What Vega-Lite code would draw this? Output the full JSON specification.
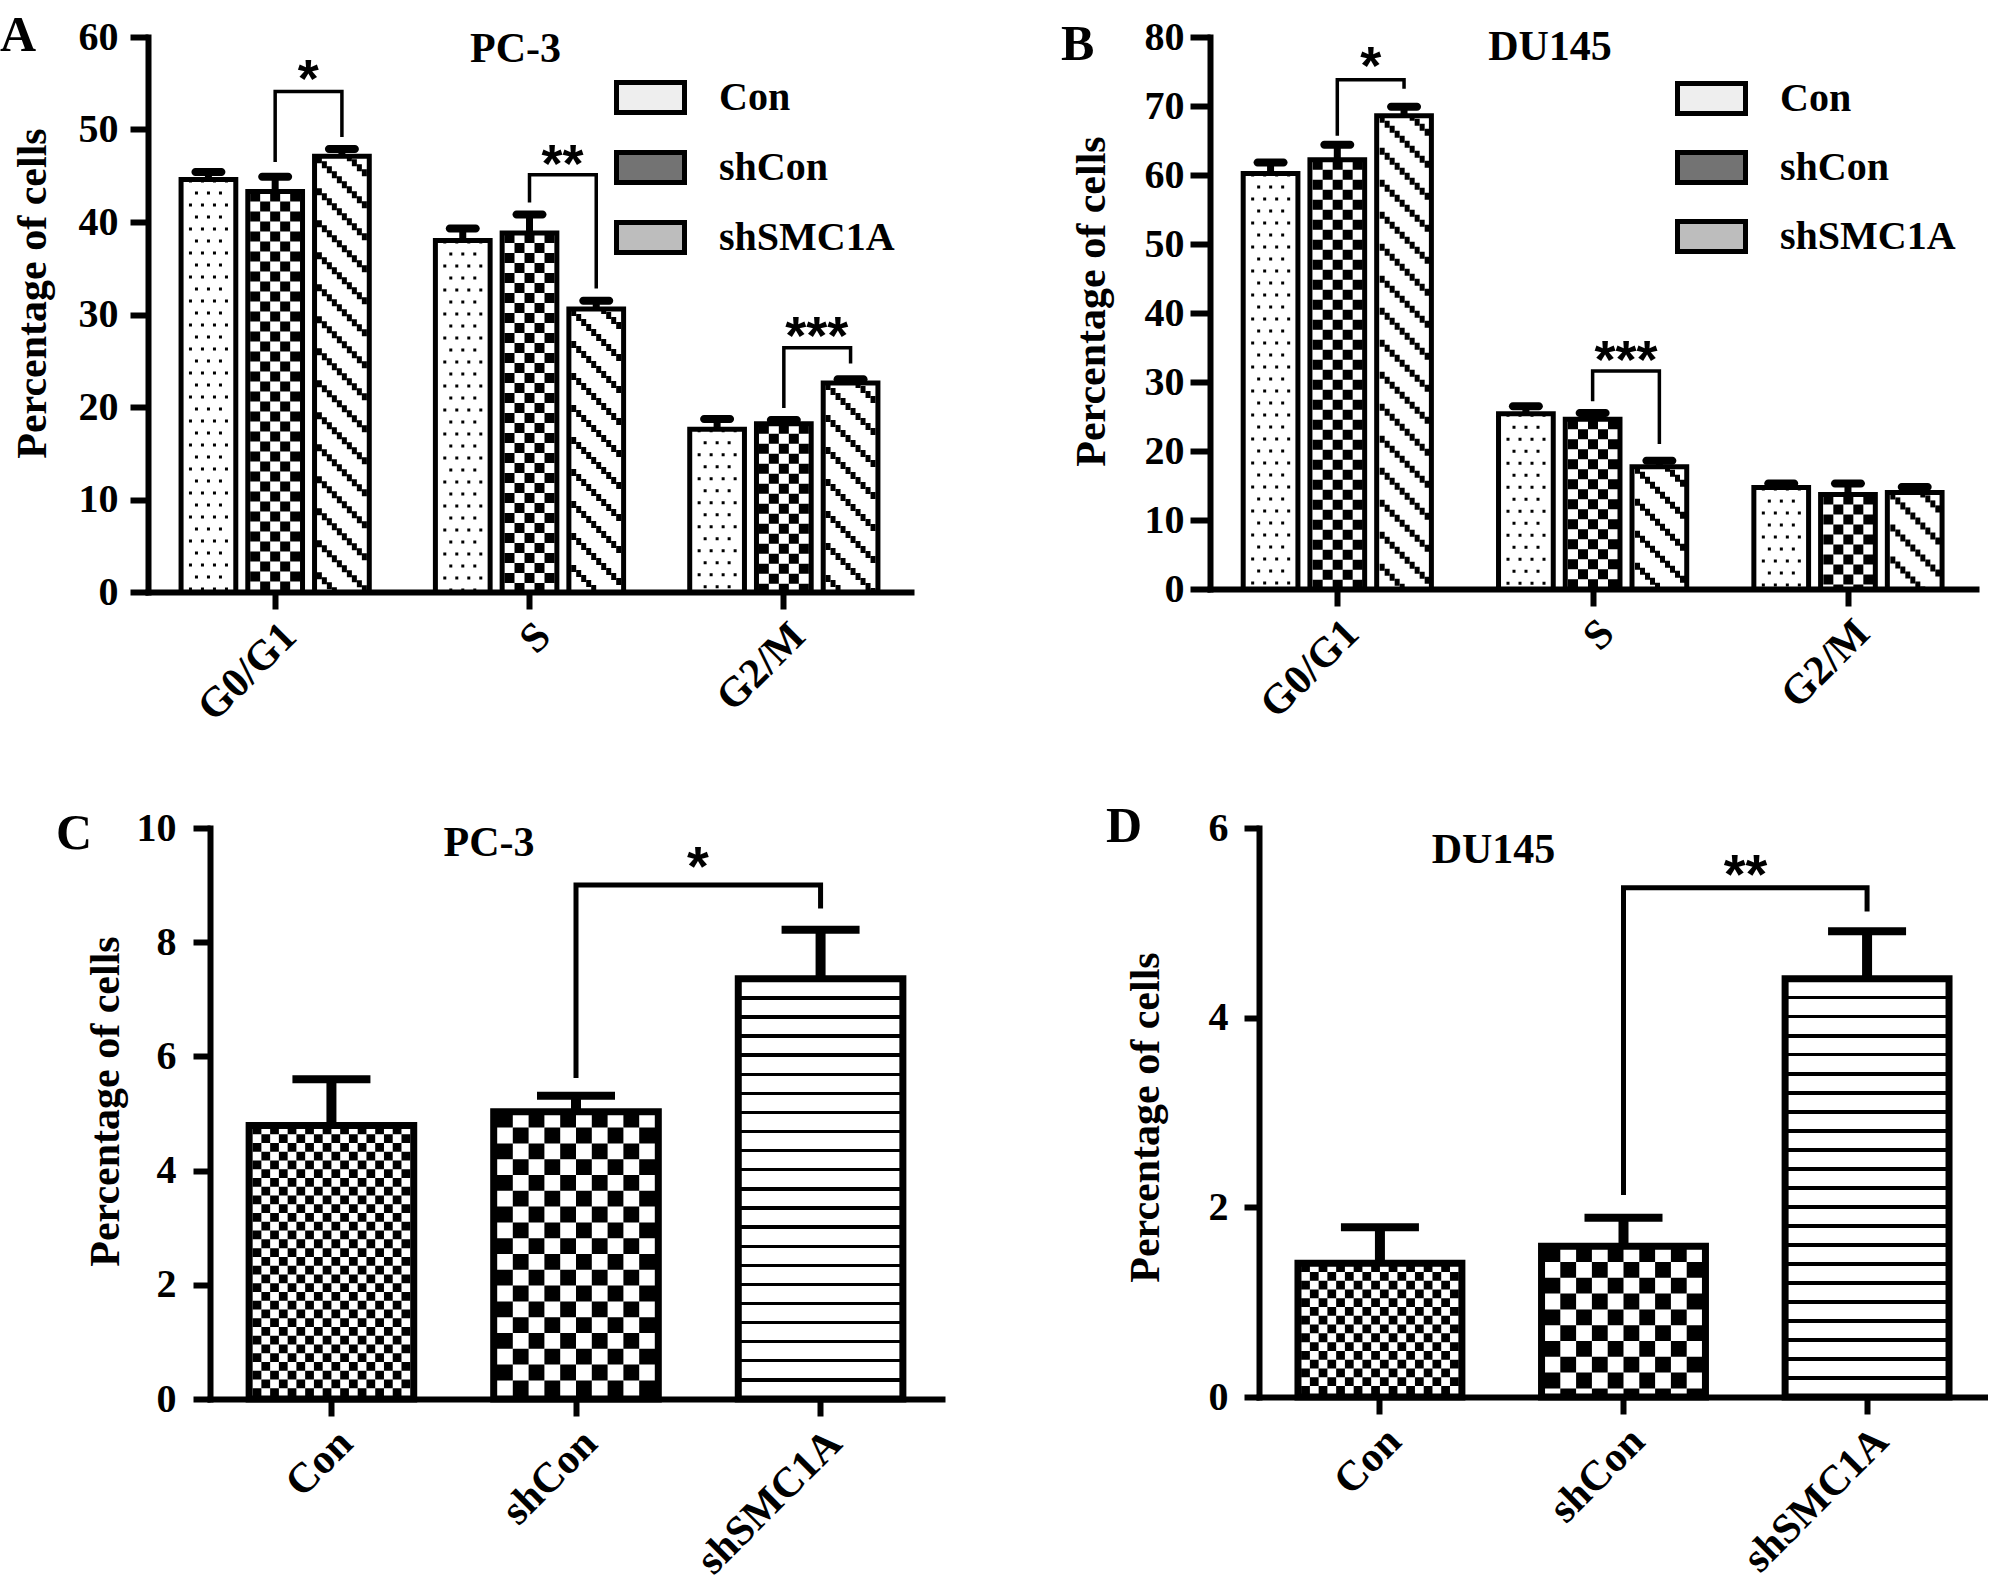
{
  "$schema": "https://vega.github.io/schema/vega-lite/v6.json",
  "background": "white",
  "padding": {"left": 0, "top": 11, "right": 0, "bottom": 0},
  "config": {
    "view": {"stroke": null},
    "font": "Liberation Serif",
    "axis": {
      "grid": false,
      "domainColor": "black",
      "domainWidth": 6,
      "domainCap": "square",
      "tickColor": "black",
      "tickWidth": 6,
      "tickSize": 18,
      "labelFont": "Liberation Serif",
      "labelFontWeight": "bold",
      "labelFontSize": 40,
      "labelColor": "black",
      "labelLimit": 400,
      "titleFont": "Liberation Serif",
      "titleFontWeight": "bold",
      "titleFontSize": 42,
      "titleColor": "black"
    },
    "legend": {"labelLimit": 400},
    "rule": {"color": "black"},
    "title": {"font": "Liberation Serif", "fontWeight": "bold", "color": "black", "baseline": "alphabetic"}
  },
  "resolve": {"scale": {"fill": "independent"}, "legend": {"fill": "independent"}},
  "columns": 1,
  "align": "none",
  "spacing": 73,
  "concat": [
    {
      "spacing": 150,
      "resolve": {"scale": {"fill": "independent"}, "legend": {"fill": "independent"}},
      "hconcat": [
        {
          "title": {"text": "A", "anchor": "start", "frame": "bounds", "fontSize": 50, "offset": -44, "dx": -11},
          "resolve": {"scale": {"fill": "independent"}, "legend": {"fill": "independent"}},
          "vconcat": [
            {
              "width": 763,
              "height": 555,
              "title": {"text": "PC-3", "anchor": "middle", "frame": "group", "fontSize": 42, "offset": -54, "dx": -14},
              "data": {"values": [
                {"phase": "G0/G1", "group": "Con", "mean": 44.6, "upper": 45.4},
                {"phase": "G0/G1", "group": "shCon", "mean": 43.3, "upper": 44.9},
                {"phase": "G0/G1", "group": "shSMC1A", "mean": 47.1, "upper": 47.9},
                {"phase": "S", "group": "Con", "mean": 38.0, "upper": 39.3},
                {"phase": "S", "group": "shCon", "mean": 38.8, "upper": 40.8},
                {"phase": "S", "group": "shSMC1A", "mean": 30.6, "upper": 31.5},
                {"phase": "G2/M", "group": "Con", "mean": 17.6, "upper": 18.7},
                {"phase": "G2/M", "group": "shCon", "mean": 18.2, "upper": 18.6},
                {"phase": "G2/M", "group": "shSMC1A", "mean": 22.6, "upper": 23.0}
              ]},
              "layer": [
                {
                  "mark": {"type": "bar", "stroke": "black", "strokeWidth": 5},
                  "encoding": {
                    "x": {"field": "phase", "type": "nominal", "scale": {"domain": ["G0/G1", "S", "G2/M"], "paddingInner": 0.26, "paddingOuter": 0.13}, "axis": {"title": null, "labelAngle": -45, "tickSize": 17, "labelPadding": 6, "labelFontSize": 42}},
                    "xOffset": {"field": "group", "type": "nominal", "scale": {"domain": ["Con", "shCon", "shSMC1A"], "paddingInner": 0.18, "paddingOuter": 0}},
                    "y": {"field": "mean", "type": "quantitative", "scale": {"domain": [0, 60], "nice": false}, "axis": {"title": "Percentage of cells", "values": [0, 10, 20, 30, 40, 50, 60], "labelPadding": 12, "minExtent": 65, "maxExtent": 65, "titlePadding": 29, "titleY": 256}},
                    "fill": {"field": "group", "type": "nominal", "condition": {"test": "isValid(datum.group)", "value": "white"}, "scale": {"domain": ["Con", "shCon", "shSMC1A"], "range": ["#eeeeee", "#737373", "#bdbdbd"]}, "legend": {"title": null, "orient": "none", "legendX": 466, "legendY": 24, "symbolType": "M-1,-0.44H1V0.44H-1Z", "symbolSize": 4624, "symbolStrokeColor": "black", "symbolStrokeWidth": 5, "symbolOpacity": 1, "labelFont": "Liberation Serif", "labelFontWeight": "bold", "labelFontSize": 40, "labelColor": "black", "labelOffset": 32, "rowPadding": 8, "padding": 0}}
                  }
                },
                {"transform": [{"filter": "datum.group === 'shCon'"}], "mark": {"type": "rule", "strokeWidth": 10, "strokeDash": [10, 10], "strokeDashOffset": 0, "xOffset": -20}, "encoding": {"x": {"field": "phase", "type": "nominal"}, "y": {"field": "mean", "type": "quantitative"}, "y2": {"datum": 0}}},
                {"transform": [{"filter": "datum.group === 'shCon'"}], "mark": {"type": "rule", "strokeWidth": 10, "strokeDash": [10, 10], "strokeDashOffset": 10, "xOffset": -10}, "encoding": {"x": {"field": "phase", "type": "nominal"}, "y": {"field": "mean", "type": "quantitative"}, "y2": {"datum": 0}}},
                {"transform": [{"filter": "datum.group === 'shCon'"}], "mark": {"type": "rule", "strokeWidth": 10, "strokeDash": [10, 10], "strokeDashOffset": 0, "xOffset": 0}, "encoding": {"x": {"field": "phase", "type": "nominal"}, "y": {"field": "mean", "type": "quantitative"}, "y2": {"datum": 0}}},
                {"transform": [{"filter": "datum.group === 'shCon'"}], "mark": {"type": "rule", "strokeWidth": 10, "strokeDash": [10, 10], "strokeDashOffset": 10, "xOffset": 10}, "encoding": {"x": {"field": "phase", "type": "nominal"}, "y": {"field": "mean", "type": "quantitative"}, "y2": {"datum": 0}}},
                {"transform": [{"filter": "datum.group === 'shCon'"}], "mark": {"type": "rule", "strokeWidth": 10, "strokeDash": [10, 10], "strokeDashOffset": 0, "xOffset": 20}, "encoding": {"x": {"field": "phase", "type": "nominal"}, "y": {"field": "mean", "type": "quantitative"}, "y2": {"datum": 0}}},
                {"transform": [{"filter": "datum.group === 'Con'"}], "mark": {"type": "rule", "strokeWidth": 3, "strokeDash": [3, 21], "strokeDashOffset": 0, "xOffset": -84.7}, "encoding": {"x": {"field": "phase", "type": "nominal"}, "y": {"field": "mean", "type": "quantitative"}, "y2": {"datum": 0}}},
                {"transform": [{"filter": "datum.group === 'Con'"}], "mark": {"type": "rule", "strokeWidth": 3, "strokeDash": [3, 21], "strokeDashOffset": 12, "xOffset": -78.7}, "encoding": {"x": {"field": "phase", "type": "nominal"}, "y": {"field": "mean", "type": "quantitative"}, "y2": {"datum": 0}}},
                {"transform": [{"filter": "datum.group === 'Con'"}], "mark": {"type": "rule", "strokeWidth": 3, "strokeDash": [3, 21], "strokeDashOffset": 0, "xOffset": -72.7}, "encoding": {"x": {"field": "phase", "type": "nominal"}, "y": {"field": "mean", "type": "quantitative"}, "y2": {"datum": 0}}},
                {"transform": [{"filter": "datum.group === 'Con'"}], "mark": {"type": "rule", "strokeWidth": 3, "strokeDash": [3, 21], "strokeDashOffset": 12, "xOffset": -66.7}, "encoding": {"x": {"field": "phase", "type": "nominal"}, "y": {"field": "mean", "type": "quantitative"}, "y2": {"datum": 0}}},
                {"transform": [{"filter": "datum.group === 'Con'"}], "mark": {"type": "rule", "strokeWidth": 3, "strokeDash": [3, 21], "strokeDashOffset": 0, "xOffset": -60.7}, "encoding": {"x": {"field": "phase", "type": "nominal"}, "y": {"field": "mean", "type": "quantitative"}, "y2": {"datum": 0}}},
                {"transform": [{"filter": "datum.group === 'Con'"}], "mark": {"type": "rule", "strokeWidth": 3, "strokeDash": [3, 21], "strokeDashOffset": 12, "xOffset": -54.7}, "encoding": {"x": {"field": "phase", "type": "nominal"}, "y": {"field": "mean", "type": "quantitative"}, "y2": {"datum": 0}}},
                {"transform": [{"filter": "datum.group === 'Con'"}], "mark": {"type": "rule", "strokeWidth": 3, "strokeDash": [3, 21], "strokeDashOffset": 0, "xOffset": -48.7}, "encoding": {"x": {"field": "phase", "type": "nominal"}, "y": {"field": "mean", "type": "quantitative"}, "y2": {"datum": 0}}},
                {"transform": [{"filter": "datum.group === 'shSMC1A'"}], "mark": {"type": "rule", "strokeWidth": 5, "strokeDash": [7, 25], "strokeDashOffset": 0, "xOffset": 44.2}, "encoding": {"x": {"field": "phase", "type": "nominal"}, "y": {"field": "mean", "type": "quantitative"}, "y2": {"datum": 0}}},
                {"transform": [{"filter": "datum.group === 'shSMC1A'"}], "mark": {"type": "rule", "strokeWidth": 5, "strokeDash": [7, 25], "strokeDashOffset": 27, "xOffset": 49.2}, "encoding": {"x": {"field": "phase", "type": "nominal"}, "y": {"field": "mean", "type": "quantitative"}, "y2": {"datum": 0}}},
                {"transform": [{"filter": "datum.group === 'shSMC1A'"}], "mark": {"type": "rule", "strokeWidth": 5, "strokeDash": [7, 25], "strokeDashOffset": 22, "xOffset": 54.2}, "encoding": {"x": {"field": "phase", "type": "nominal"}, "y": {"field": "mean", "type": "quantitative"}, "y2": {"datum": 0}}},
                {"transform": [{"filter": "datum.group === 'shSMC1A'"}], "mark": {"type": "rule", "strokeWidth": 5, "strokeDash": [7, 25], "strokeDashOffset": 17, "xOffset": 59.2}, "encoding": {"x": {"field": "phase", "type": "nominal"}, "y": {"field": "mean", "type": "quantitative"}, "y2": {"datum": 0}}},
                {"transform": [{"filter": "datum.group === 'shSMC1A'"}], "mark": {"type": "rule", "strokeWidth": 5, "strokeDash": [7, 25], "strokeDashOffset": 12, "xOffset": 64.2}, "encoding": {"x": {"field": "phase", "type": "nominal"}, "y": {"field": "mean", "type": "quantitative"}, "y2": {"datum": 0}}},
                {"transform": [{"filter": "datum.group === 'shSMC1A'"}], "mark": {"type": "rule", "strokeWidth": 5, "strokeDash": [7, 25], "strokeDashOffset": 7, "xOffset": 69.2}, "encoding": {"x": {"field": "phase", "type": "nominal"}, "y": {"field": "mean", "type": "quantitative"}, "y2": {"datum": 0}}},
                {"transform": [{"filter": "datum.group === 'shSMC1A'"}], "mark": {"type": "rule", "strokeWidth": 5, "strokeDash": [7, 25], "strokeDashOffset": 2, "xOffset": 74.2}, "encoding": {"x": {"field": "phase", "type": "nominal"}, "y": {"field": "mean", "type": "quantitative"}, "y2": {"datum": 0}}},
                {"transform": [{"filter": "datum.group === 'shSMC1A'"}], "mark": {"type": "rule", "strokeWidth": 5, "strokeDash": [7, 25], "strokeDashOffset": 29, "xOffset": 79.2}, "encoding": {"x": {"field": "phase", "type": "nominal"}, "y": {"field": "mean", "type": "quantitative"}, "y2": {"datum": 0}}},
                {"transform": [{"filter": "datum.group === 'shSMC1A'"}], "mark": {"type": "rule", "strokeWidth": 5, "strokeDash": [7, 25], "strokeDashOffset": 24, "xOffset": 84.2}, "encoding": {"x": {"field": "phase", "type": "nominal"}, "y": {"field": "mean", "type": "quantitative"}, "y2": {"datum": 0}}},
                {"transform": [{"filter": "datum.group === 'shSMC1A'"}], "mark": {"type": "rule", "strokeWidth": 5, "strokeDash": [7, 25], "strokeDashOffset": 19, "xOffset": 89.2}, "encoding": {"x": {"field": "phase", "type": "nominal"}, "y": {"field": "mean", "type": "quantitative"}, "y2": {"datum": 0}}},
                {
                  "mark": {"type": "rule", "color": "black", "strokeWidth": 7},
                  "encoding": {
                    "x": {"field": "phase", "type": "nominal"},
                    "xOffset": {"field": "group", "type": "nominal"},
                    "y": {"field": "mean", "type": "quantitative"},
                    "y2": {"field": "upper"}
                  }
                },
                {
                  "mark": {"type": "tick", "color": "black", "opacity": 1, "thickness": 8, "size": 34, "cornerRadius": 4},
                  "encoding": {
                    "x": {"field": "phase", "type": "nominal"},
                    "xOffset": {"field": "group", "type": "nominal"},
                    "y": {"field": "upper", "type": "quantitative"}
                  }
                },
                {
                  "data": {"values": [
                    {"id": "b1", "o": 1, "phase": "G0/G1", "group": "shCon", "v": 46.5},
                    {"id": "b1", "o": 2, "phase": "G0/G1", "group": "shCon", "v": 54.1},
                    {"id": "b1", "o": 3, "phase": "G0/G1", "group": "shSMC1A", "v": 54.1},
                    {"id": "b1", "o": 4, "phase": "G0/G1", "group": "shSMC1A", "v": 49.2},
                    {"id": "b2", "o": 1, "phase": "S", "group": "shCon", "v": 42.1},
                    {"id": "b2", "o": 2, "phase": "S", "group": "shCon", "v": 45.1},
                    {"id": "b2", "o": 3, "phase": "S", "group": "shSMC1A", "v": 45.1},
                    {"id": "b2", "o": 4, "phase": "S", "group": "shSMC1A", "v": 32.8},
                    {"id": "b3", "o": 1, "phase": "G2/M", "group": "shCon", "v": 19.9},
                    {"id": "b3", "o": 2, "phase": "G2/M", "group": "shCon", "v": 26.4},
                    {"id": "b3", "o": 3, "phase": "G2/M", "group": "shSMC1A", "v": 26.4},
                    {"id": "b3", "o": 4, "phase": "G2/M", "group": "shSMC1A", "v": 24.7}
                  ]},
                  "mark": {"type": "line", "color": "black", "strokeWidth": 3.5},
                  "encoding": {
                    "x": {"field": "phase", "type": "nominal"},
                    "xOffset": {"field": "group", "type": "nominal"},
                    "y": {"field": "v", "type": "quantitative"},
                    "detail": {"field": "id"},
                    "order": {"field": "o"}
                  }
                },
                {
                  "data": {"values": [
                    {"phase": "G0/G1", "v": 56.8, "label": "*"},
                    {"phase": "S", "v": 47.6, "label": "**"},
                    {"phase": "G2/M", "v": 29.0, "label": "***"}
                  ]},
                  "mark": {"type": "text", "font": "Liberation Sans", "fontWeight": "bold", "fontSize": 54, "baseline": "middle", "align": "center", "dx": 33, "dy": 14, "color": "black"},
                  "encoding": {
                    "x": {"field": "phase", "type": "nominal"},
                    "y": {"field": "v", "type": "quantitative"},
                    "text": {"field": "label"}
                  }
                }
              ]
            }
          ]
        },
        {
          "title": {"text": "B", "anchor": "start", "frame": "bounds", "fontSize": 50, "offset": -53, "dx": -9},
          "resolve": {"scale": {"fill": "independent"}, "legend": {"fill": "independent"}},
          "vconcat": [
            {
              "width": 766,
              "height": 552,
              "title": {"text": "DU145", "anchor": "middle", "frame": "group", "fontSize": 42, "offset": -52, "dx": -43},
              "data": {"values": [
                {"phase": "G0/G1", "group": "Con", "mean": 60.2, "upper": 61.8},
                {"phase": "G0/G1", "group": "shCon", "mean": 62.2, "upper": 64.4},
                {"phase": "G0/G1", "group": "shSMC1A", "mean": 68.6, "upper": 69.9},
                {"phase": "S", "group": "Con", "mean": 25.4, "upper": 26.5},
                {"phase": "S", "group": "shCon", "mean": 24.6, "upper": 25.5},
                {"phase": "S", "group": "shSMC1A", "mean": 17.7, "upper": 18.6},
                {"phase": "G2/M", "group": "Con", "mean": 14.7, "upper": 15.3},
                {"phase": "G2/M", "group": "shCon", "mean": 13.7, "upper": 15.3},
                {"phase": "G2/M", "group": "shSMC1A", "mean": 14.0, "upper": 14.8}
              ]},
              "layer": [
                {
                  "mark": {"type": "bar", "stroke": "black", "strokeWidth": 5},
                  "encoding": {
                    "x": {"field": "phase", "type": "nominal", "scale": {"domain": ["G0/G1", "S", "G2/M"], "paddingInner": 0.26, "paddingOuter": 0.13}, "axis": {"title": null, "labelAngle": -45, "tickSize": 17, "labelPadding": 6, "labelFontSize": 42}},
                    "xOffset": {"field": "group", "type": "nominal", "scale": {"domain": ["Con", "shCon", "shSMC1A"], "paddingInner": 0.18, "paddingOuter": 0}},
                    "y": {"field": "mean", "type": "quantitative", "scale": {"domain": [0, 80], "nice": false}, "axis": {"title": "Percentage of cells", "values": [0, 10, 20, 30, 40, 50, 60, 70, 80], "tickSize": 20, "labelPadding": 6, "minExtent": 66, "maxExtent": 66, "titlePadding": 31, "titleY": 264}},
                    "fill": {"field": "group", "type": "nominal", "condition": {"test": "isValid(datum.group)", "value": "white"}, "scale": {"domain": ["Con", "shCon", "shSMC1A"], "range": ["#eeeeee", "#737373", "#bdbdbd"]}, "legend": {"title": null, "orient": "none", "legendX": 465, "legendY": 25, "symbolType": "M-1,-0.44H1V0.44H-1Z", "symbolSize": 4624, "symbolStrokeColor": "black", "symbolStrokeWidth": 5, "symbolOpacity": 1, "labelFont": "Liberation Serif", "labelFontWeight": "bold", "labelFontSize": 40, "labelColor": "black", "labelOffset": 32, "rowPadding": 7, "padding": 0}}
                  }
                },
                {"transform": [{"filter": "datum.group === 'shCon'"}], "mark": {"type": "rule", "strokeWidth": 10, "strokeDash": [10, 10], "strokeDashOffset": 0, "xOffset": -20}, "encoding": {"x": {"field": "phase", "type": "nominal"}, "y": {"field": "mean", "type": "quantitative"}, "y2": {"datum": 0}}},
                {"transform": [{"filter": "datum.group === 'shCon'"}], "mark": {"type": "rule", "strokeWidth": 10, "strokeDash": [10, 10], "strokeDashOffset": 10, "xOffset": -10}, "encoding": {"x": {"field": "phase", "type": "nominal"}, "y": {"field": "mean", "type": "quantitative"}, "y2": {"datum": 0}}},
                {"transform": [{"filter": "datum.group === 'shCon'"}], "mark": {"type": "rule", "strokeWidth": 10, "strokeDash": [10, 10], "strokeDashOffset": 0, "xOffset": 0}, "encoding": {"x": {"field": "phase", "type": "nominal"}, "y": {"field": "mean", "type": "quantitative"}, "y2": {"datum": 0}}},
                {"transform": [{"filter": "datum.group === 'shCon'"}], "mark": {"type": "rule", "strokeWidth": 10, "strokeDash": [10, 10], "strokeDashOffset": 10, "xOffset": 10}, "encoding": {"x": {"field": "phase", "type": "nominal"}, "y": {"field": "mean", "type": "quantitative"}, "y2": {"datum": 0}}},
                {"transform": [{"filter": "datum.group === 'shCon'"}], "mark": {"type": "rule", "strokeWidth": 10, "strokeDash": [10, 10], "strokeDashOffset": 0, "xOffset": 20}, "encoding": {"x": {"field": "phase", "type": "nominal"}, "y": {"field": "mean", "type": "quantitative"}, "y2": {"datum": 0}}},
                {"transform": [{"filter": "datum.group === 'Con'"}], "mark": {"type": "rule", "strokeWidth": 3, "strokeDash": [3, 21], "strokeDashOffset": 0, "xOffset": -85}, "encoding": {"x": {"field": "phase", "type": "nominal"}, "y": {"field": "mean", "type": "quantitative"}, "y2": {"datum": 0}}},
                {"transform": [{"filter": "datum.group === 'Con'"}], "mark": {"type": "rule", "strokeWidth": 3, "strokeDash": [3, 21], "strokeDashOffset": 12, "xOffset": -79}, "encoding": {"x": {"field": "phase", "type": "nominal"}, "y": {"field": "mean", "type": "quantitative"}, "y2": {"datum": 0}}},
                {"transform": [{"filter": "datum.group === 'Con'"}], "mark": {"type": "rule", "strokeWidth": 3, "strokeDash": [3, 21], "strokeDashOffset": 0, "xOffset": -73}, "encoding": {"x": {"field": "phase", "type": "nominal"}, "y": {"field": "mean", "type": "quantitative"}, "y2": {"datum": 0}}},
                {"transform": [{"filter": "datum.group === 'Con'"}], "mark": {"type": "rule", "strokeWidth": 3, "strokeDash": [3, 21], "strokeDashOffset": 12, "xOffset": -67}, "encoding": {"x": {"field": "phase", "type": "nominal"}, "y": {"field": "mean", "type": "quantitative"}, "y2": {"datum": 0}}},
                {"transform": [{"filter": "datum.group === 'Con'"}], "mark": {"type": "rule", "strokeWidth": 3, "strokeDash": [3, 21], "strokeDashOffset": 0, "xOffset": -61}, "encoding": {"x": {"field": "phase", "type": "nominal"}, "y": {"field": "mean", "type": "quantitative"}, "y2": {"datum": 0}}},
                {"transform": [{"filter": "datum.group === 'Con'"}], "mark": {"type": "rule", "strokeWidth": 3, "strokeDash": [3, 21], "strokeDashOffset": 12, "xOffset": -55}, "encoding": {"x": {"field": "phase", "type": "nominal"}, "y": {"field": "mean", "type": "quantitative"}, "y2": {"datum": 0}}},
                {"transform": [{"filter": "datum.group === 'Con'"}], "mark": {"type": "rule", "strokeWidth": 3, "strokeDash": [3, 21], "strokeDashOffset": 0, "xOffset": -49}, "encoding": {"x": {"field": "phase", "type": "nominal"}, "y": {"field": "mean", "type": "quantitative"}, "y2": {"datum": 0}}},
                {"transform": [{"filter": "datum.group === 'shSMC1A'"}], "mark": {"type": "rule", "strokeWidth": 5, "strokeDash": [7, 25], "strokeDashOffset": 0, "xOffset": 44.5}, "encoding": {"x": {"field": "phase", "type": "nominal"}, "y": {"field": "mean", "type": "quantitative"}, "y2": {"datum": 0}}},
                {"transform": [{"filter": "datum.group === 'shSMC1A'"}], "mark": {"type": "rule", "strokeWidth": 5, "strokeDash": [7, 25], "strokeDashOffset": 27, "xOffset": 49.5}, "encoding": {"x": {"field": "phase", "type": "nominal"}, "y": {"field": "mean", "type": "quantitative"}, "y2": {"datum": 0}}},
                {"transform": [{"filter": "datum.group === 'shSMC1A'"}], "mark": {"type": "rule", "strokeWidth": 5, "strokeDash": [7, 25], "strokeDashOffset": 22, "xOffset": 54.5}, "encoding": {"x": {"field": "phase", "type": "nominal"}, "y": {"field": "mean", "type": "quantitative"}, "y2": {"datum": 0}}},
                {"transform": [{"filter": "datum.group === 'shSMC1A'"}], "mark": {"type": "rule", "strokeWidth": 5, "strokeDash": [7, 25], "strokeDashOffset": 17, "xOffset": 59.5}, "encoding": {"x": {"field": "phase", "type": "nominal"}, "y": {"field": "mean", "type": "quantitative"}, "y2": {"datum": 0}}},
                {"transform": [{"filter": "datum.group === 'shSMC1A'"}], "mark": {"type": "rule", "strokeWidth": 5, "strokeDash": [7, 25], "strokeDashOffset": 12, "xOffset": 64.5}, "encoding": {"x": {"field": "phase", "type": "nominal"}, "y": {"field": "mean", "type": "quantitative"}, "y2": {"datum": 0}}},
                {"transform": [{"filter": "datum.group === 'shSMC1A'"}], "mark": {"type": "rule", "strokeWidth": 5, "strokeDash": [7, 25], "strokeDashOffset": 7, "xOffset": 69.5}, "encoding": {"x": {"field": "phase", "type": "nominal"}, "y": {"field": "mean", "type": "quantitative"}, "y2": {"datum": 0}}},
                {"transform": [{"filter": "datum.group === 'shSMC1A'"}], "mark": {"type": "rule", "strokeWidth": 5, "strokeDash": [7, 25], "strokeDashOffset": 2, "xOffset": 74.5}, "encoding": {"x": {"field": "phase", "type": "nominal"}, "y": {"field": "mean", "type": "quantitative"}, "y2": {"datum": 0}}},
                {"transform": [{"filter": "datum.group === 'shSMC1A'"}], "mark": {"type": "rule", "strokeWidth": 5, "strokeDash": [7, 25], "strokeDashOffset": 29, "xOffset": 79.5}, "encoding": {"x": {"field": "phase", "type": "nominal"}, "y": {"field": "mean", "type": "quantitative"}, "y2": {"datum": 0}}},
                {"transform": [{"filter": "datum.group === 'shSMC1A'"}], "mark": {"type": "rule", "strokeWidth": 5, "strokeDash": [7, 25], "strokeDashOffset": 24, "xOffset": 84.5}, "encoding": {"x": {"field": "phase", "type": "nominal"}, "y": {"field": "mean", "type": "quantitative"}, "y2": {"datum": 0}}},
                {"transform": [{"filter": "datum.group === 'shSMC1A'"}], "mark": {"type": "rule", "strokeWidth": 5, "strokeDash": [7, 25], "strokeDashOffset": 19, "xOffset": 89.5}, "encoding": {"x": {"field": "phase", "type": "nominal"}, "y": {"field": "mean", "type": "quantitative"}, "y2": {"datum": 0}}},
                {
                  "mark": {"type": "rule", "color": "black", "strokeWidth": 7},
                  "encoding": {
                    "x": {"field": "phase", "type": "nominal"},
                    "xOffset": {"field": "group", "type": "nominal"},
                    "y": {"field": "mean", "type": "quantitative"},
                    "y2": {"field": "upper"}
                  }
                },
                {
                  "mark": {"type": "tick", "color": "black", "opacity": 1, "thickness": 8, "size": 34, "cornerRadius": 4},
                  "encoding": {
                    "x": {"field": "phase", "type": "nominal"},
                    "xOffset": {"field": "group", "type": "nominal"},
                    "y": {"field": "upper", "type": "quantitative"}
                  }
                },
                {
                  "data": {"values": [
                    {"id": "b1", "o": 1, "phase": "G0/G1", "group": "shCon", "v": 65.7},
                    {"id": "b1", "o": 2, "phase": "G0/G1", "group": "shCon", "v": 73.8},
                    {"id": "b1", "o": 3, "phase": "G0/G1", "group": "shSMC1A", "v": 73.8},
                    {"id": "b1", "o": 4, "phase": "G0/G1", "group": "shSMC1A", "v": 72.5},
                    {"id": "b2", "o": 1, "phase": "S", "group": "shCon", "v": 27.2},
                    {"id": "b2", "o": 2, "phase": "S", "group": "shCon", "v": 31.6},
                    {"id": "b2", "o": 3, "phase": "S", "group": "shSMC1A", "v": 31.6},
                    {"id": "b2", "o": 4, "phase": "S", "group": "shSMC1A", "v": 21.0}
                  ]},
                  "mark": {"type": "line", "color": "black", "strokeWidth": 3.5},
                  "encoding": {
                    "x": {"field": "phase", "type": "nominal"},
                    "xOffset": {"field": "group", "type": "nominal"},
                    "y": {"field": "v", "type": "quantitative"},
                    "detail": {"field": "id"},
                    "order": {"field": "o"}
                  }
                },
                {
                  "data": {"values": [
                    {"phase": "G0/G1", "v": 77.5, "label": "*"},
                    {"phase": "S", "v": 35.0, "label": "***"}
                  ]},
                  "mark": {"type": "text", "font": "Liberation Sans", "fontWeight": "bold", "fontSize": 54, "baseline": "middle", "align": "center", "dx": 33, "dy": 14, "color": "black"},
                  "encoding": {
                    "x": {"field": "phase", "type": "nominal"},
                    "y": {"field": "v", "type": "quantitative"},
                    "text": {"field": "label"}
                  }
                }
              ]
            }
          ]
        }
      ]
    },
    {
      "spacing": 164,
      "resolve": {"scale": {"fill": "independent"}, "legend": {"fill": "independent"}},
      "hconcat": [
        {
          "title": {"text": "C", "anchor": "start", "frame": "bounds", "fontSize": 50, "offset": -51, "dx": -28},
          "resolve": {"scale": {"fill": "independent"}, "legend": {"fill": "independent"}},
          "vconcat": [
            {
              "width": 794,
              "height": 571,
              "title": {"text": "PC-3", "anchor": "middle", "frame": "group", "fontSize": 42, "offset": -57, "dx": -56},
              "data": {"values": [
                {"group": "Con", "mean": 4.79, "upper": 5.6},
                {"group": "shCon", "mean": 5.03, "upper": 5.31},
                {"group": "shSMC1A", "mean": 7.36, "upper": 8.22}
              ]},
              "layer": [
                {
                  "mark": {"type": "bar", "stroke": "black", "strokeWidth": 7},
                  "encoding": {
                    "x": {"field": "group", "type": "nominal", "scale": {"domain": ["Con", "shCon", "shSMC1A"], "range": [62, 794], "paddingInner": 0.327, "paddingOuter": 0.16}, "axis": {"title": null, "labelAngle": -45, "tickSize": 17, "labelPadding": 6, "labelFontSize": 42}},
                    "y": {"field": "mean", "type": "quantitative", "scale": {"domain": [0, 10], "nice": false}, "axis": {"title": "Percentage of cells", "offset": -62, "values": [0, 2, 4, 6, 8, 10], "format": "d", "tickSize": 17, "labelPadding": 17, "minExtent": 71, "maxExtent": 71, "titlePadding": 12, "titleY": 273}},
                    "fill": {
                      "condition": {"test": "datum.group === 'shSMC1A'", "value": {"gradient": "linear", "x1": 0, "y1": 0, "x2": 0, "y2": 1, "stops": [
                          {"offset": 0, "color": "white"},
                          {"offset": 0.0415, "color": "white"}, {"offset": 0.0415, "color": "black"}, {"offset": 0.0495, "color": "black"}, {"offset": 0.0495, "color": "white"},
                          {"offset": 0.0869, "color": "white"}, {"offset": 0.0869, "color": "black"}, {"offset": 0.0949, "color": "black"}, {"offset": 0.0949, "color": "white"},
                          {"offset": 0.1324, "color": "white"}, {"offset": 0.1324, "color": "black"}, {"offset": 0.1404, "color": "black"}, {"offset": 0.1404, "color": "white"},
                          {"offset": 0.1778, "color": "white"}, {"offset": 0.1778, "color": "black"}, {"offset": 0.1858, "color": "black"}, {"offset": 0.1858, "color": "white"},
                          {"offset": 0.2233, "color": "white"}, {"offset": 0.2233, "color": "black"}, {"offset": 0.2313, "color": "black"}, {"offset": 0.2313, "color": "white"},
                          {"offset": 0.2687, "color": "white"}, {"offset": 0.2687, "color": "black"}, {"offset": 0.2767, "color": "black"}, {"offset": 0.2767, "color": "white"},
                          {"offset": 0.3142, "color": "white"}, {"offset": 0.3142, "color": "black"}, {"offset": 0.3222, "color": "black"}, {"offset": 0.3222, "color": "white"},
                          {"offset": 0.3596, "color": "white"}, {"offset": 0.3596, "color": "black"}, {"offset": 0.3676, "color": "black"}, {"offset": 0.3676, "color": "white"},
                          {"offset": 0.4051, "color": "white"}, {"offset": 0.4051, "color": "black"}, {"offset": 0.4131, "color": "black"}, {"offset": 0.4131, "color": "white"},
                          {"offset": 0.4505, "color": "white"}, {"offset": 0.4505, "color": "black"}, {"offset": 0.4585, "color": "black"}, {"offset": 0.4585, "color": "white"},
                          {"offset": 0.496, "color": "white"}, {"offset": 0.496, "color": "black"}, {"offset": 0.504, "color": "black"}, {"offset": 0.504, "color": "white"},
                          {"offset": 0.5415, "color": "white"}, {"offset": 0.5415, "color": "black"}, {"offset": 0.5495, "color": "black"}, {"offset": 0.5495, "color": "white"},
                          {"offset": 0.5869, "color": "white"}, {"offset": 0.5869, "color": "black"}, {"offset": 0.5949, "color": "black"}, {"offset": 0.5949, "color": "white"},
                          {"offset": 0.6324, "color": "white"}, {"offset": 0.6324, "color": "black"}, {"offset": 0.6404, "color": "black"}, {"offset": 0.6404, "color": "white"},
                          {"offset": 0.6778, "color": "white"}, {"offset": 0.6778, "color": "black"}, {"offset": 0.6858, "color": "black"}, {"offset": 0.6858, "color": "white"},
                          {"offset": 0.7233, "color": "white"}, {"offset": 0.7233, "color": "black"}, {"offset": 0.7313, "color": "black"}, {"offset": 0.7313, "color": "white"},
                          {"offset": 0.7687, "color": "white"}, {"offset": 0.7687, "color": "black"}, {"offset": 0.7767, "color": "black"}, {"offset": 0.7767, "color": "white"},
                          {"offset": 0.8142, "color": "white"}, {"offset": 0.8142, "color": "black"}, {"offset": 0.8222, "color": "black"}, {"offset": 0.8222, "color": "white"},
                          {"offset": 0.8596, "color": "white"}, {"offset": 0.8596, "color": "black"}, {"offset": 0.8676, "color": "black"}, {"offset": 0.8676, "color": "white"},
                          {"offset": 0.9051, "color": "white"}, {"offset": 0.9051, "color": "black"}, {"offset": 0.9131, "color": "black"}, {"offset": 0.9131, "color": "white"},
                          {"offset": 0.9505, "color": "white"}, {"offset": 0.9505, "color": "black"}, {"offset": 0.9585, "color": "black"}, {"offset": 0.9585, "color": "white"},
                          {"offset": 1, "color": "white"}
                        ]}},
                      "value": "white"
                    }
                  }
                },
                {"transform": [{"filter": "datum.group === 'shCon'"}], "mark": {"type": "rule", "strokeWidth": 15.8, "strokeDash": [15.8, 15.8], "strokeDashOffset": 0, "xOffset": -71.1}, "encoding": {"x": {"field": "group", "type": "nominal"}, "y": {"field": "mean", "type": "quantitative"}, "y2": {"datum": 0}}},
                {"transform": [{"filter": "datum.group === 'shCon'"}], "mark": {"type": "rule", "strokeWidth": 15.8, "strokeDash": [15.8, 15.8], "strokeDashOffset": 15.8, "xOffset": -55.3}, "encoding": {"x": {"field": "group", "type": "nominal"}, "y": {"field": "mean", "type": "quantitative"}, "y2": {"datum": 0}}},
                {"transform": [{"filter": "datum.group === 'shCon'"}], "mark": {"type": "rule", "strokeWidth": 15.8, "strokeDash": [15.8, 15.8], "strokeDashOffset": 0, "xOffset": -39.5}, "encoding": {"x": {"field": "group", "type": "nominal"}, "y": {"field": "mean", "type": "quantitative"}, "y2": {"datum": 0}}},
                {"transform": [{"filter": "datum.group === 'shCon'"}], "mark": {"type": "rule", "strokeWidth": 15.8, "strokeDash": [15.8, 15.8], "strokeDashOffset": 15.8, "xOffset": -23.7}, "encoding": {"x": {"field": "group", "type": "nominal"}, "y": {"field": "mean", "type": "quantitative"}, "y2": {"datum": 0}}},
                {"transform": [{"filter": "datum.group === 'shCon'"}], "mark": {"type": "rule", "strokeWidth": 15.8, "strokeDash": [15.8, 15.8], "strokeDashOffset": 0, "xOffset": -7.9}, "encoding": {"x": {"field": "group", "type": "nominal"}, "y": {"field": "mean", "type": "quantitative"}, "y2": {"datum": 0}}},
                {"transform": [{"filter": "datum.group === 'shCon'"}], "mark": {"type": "rule", "strokeWidth": 15.8, "strokeDash": [15.8, 15.8], "strokeDashOffset": 15.8, "xOffset": 7.9}, "encoding": {"x": {"field": "group", "type": "nominal"}, "y": {"field": "mean", "type": "quantitative"}, "y2": {"datum": 0}}},
                {"transform": [{"filter": "datum.group === 'shCon'"}], "mark": {"type": "rule", "strokeWidth": 15.8, "strokeDash": [15.8, 15.8], "strokeDashOffset": 0, "xOffset": 23.7}, "encoding": {"x": {"field": "group", "type": "nominal"}, "y": {"field": "mean", "type": "quantitative"}, "y2": {"datum": 0}}},
                {"transform": [{"filter": "datum.group === 'shCon'"}], "mark": {"type": "rule", "strokeWidth": 15.8, "strokeDash": [15.8, 15.8], "strokeDashOffset": 15.8, "xOffset": 39.5}, "encoding": {"x": {"field": "group", "type": "nominal"}, "y": {"field": "mean", "type": "quantitative"}, "y2": {"datum": 0}}},
                {"transform": [{"filter": "datum.group === 'shCon'"}], "mark": {"type": "rule", "strokeWidth": 15.8, "strokeDash": [15.8, 15.8], "strokeDashOffset": 0, "xOffset": 55.3}, "encoding": {"x": {"field": "group", "type": "nominal"}, "y": {"field": "mean", "type": "quantitative"}, "y2": {"datum": 0}}},
                {"transform": [{"filter": "datum.group === 'shCon'"}], "mark": {"type": "rule", "strokeWidth": 15.8, "strokeDash": [15.8, 15.8], "strokeDashOffset": 15.8, "xOffset": 71.1}, "encoding": {"x": {"field": "group", "type": "nominal"}, "y": {"field": "mean", "type": "quantitative"}, "y2": {"datum": 0}}},
                {"transform": [{"filter": "datum.group === 'Con'"}], "mark": {"type": "rule", "strokeWidth": 8.76, "strokeDash": [8.76, 8.76], "strokeDashOffset": 0, "xOffset": -74.42}, "encoding": {"x": {"field": "group", "type": "nominal"}, "y": {"field": "mean", "type": "quantitative"}, "y2": {"datum": 0}}},
                {"transform": [{"filter": "datum.group === 'Con'"}], "mark": {"type": "rule", "strokeWidth": 8.76, "strokeDash": [8.76, 8.76], "strokeDashOffset": 8.76, "xOffset": -65.67}, "encoding": {"x": {"field": "group", "type": "nominal"}, "y": {"field": "mean", "type": "quantitative"}, "y2": {"datum": 0}}},
                {"transform": [{"filter": "datum.group === 'Con'"}], "mark": {"type": "rule", "strokeWidth": 8.76, "strokeDash": [8.76, 8.76], "strokeDashOffset": 0, "xOffset": -56.91}, "encoding": {"x": {"field": "group", "type": "nominal"}, "y": {"field": "mean", "type": "quantitative"}, "y2": {"datum": 0}}},
                {"transform": [{"filter": "datum.group === 'Con'"}], "mark": {"type": "rule", "strokeWidth": 8.76, "strokeDash": [8.76, 8.76], "strokeDashOffset": 8.76, "xOffset": -48.16}, "encoding": {"x": {"field": "group", "type": "nominal"}, "y": {"field": "mean", "type": "quantitative"}, "y2": {"datum": 0}}},
                {"transform": [{"filter": "datum.group === 'Con'"}], "mark": {"type": "rule", "strokeWidth": 8.76, "strokeDash": [8.76, 8.76], "strokeDashOffset": 0, "xOffset": -39.4}, "encoding": {"x": {"field": "group", "type": "nominal"}, "y": {"field": "mean", "type": "quantitative"}, "y2": {"datum": 0}}},
                {"transform": [{"filter": "datum.group === 'Con'"}], "mark": {"type": "rule", "strokeWidth": 8.76, "strokeDash": [8.76, 8.76], "strokeDashOffset": 8.76, "xOffset": -30.64}, "encoding": {"x": {"field": "group", "type": "nominal"}, "y": {"field": "mean", "type": "quantitative"}, "y2": {"datum": 0}}},
                {"transform": [{"filter": "datum.group === 'Con'"}], "mark": {"type": "rule", "strokeWidth": 8.76, "strokeDash": [8.76, 8.76], "strokeDashOffset": 0, "xOffset": -21.89}, "encoding": {"x": {"field": "group", "type": "nominal"}, "y": {"field": "mean", "type": "quantitative"}, "y2": {"datum": 0}}},
                {"transform": [{"filter": "datum.group === 'Con'"}], "mark": {"type": "rule", "strokeWidth": 8.76, "strokeDash": [8.76, 8.76], "strokeDashOffset": 8.76, "xOffset": -13.13}, "encoding": {"x": {"field": "group", "type": "nominal"}, "y": {"field": "mean", "type": "quantitative"}, "y2": {"datum": 0}}},
                {"transform": [{"filter": "datum.group === 'Con'"}], "mark": {"type": "rule", "strokeWidth": 8.76, "strokeDash": [8.76, 8.76], "strokeDashOffset": 0, "xOffset": -4.38}, "encoding": {"x": {"field": "group", "type": "nominal"}, "y": {"field": "mean", "type": "quantitative"}, "y2": {"datum": 0}}},
                {"transform": [{"filter": "datum.group === 'Con'"}], "mark": {"type": "rule", "strokeWidth": 8.76, "strokeDash": [8.76, 8.76], "strokeDashOffset": 8.76, "xOffset": 4.38}, "encoding": {"x": {"field": "group", "type": "nominal"}, "y": {"field": "mean", "type": "quantitative"}, "y2": {"datum": 0}}},
                {"transform": [{"filter": "datum.group === 'Con'"}], "mark": {"type": "rule", "strokeWidth": 8.76, "strokeDash": [8.76, 8.76], "strokeDashOffset": 0, "xOffset": 13.13}, "encoding": {"x": {"field": "group", "type": "nominal"}, "y": {"field": "mean", "type": "quantitative"}, "y2": {"datum": 0}}},
                {"transform": [{"filter": "datum.group === 'Con'"}], "mark": {"type": "rule", "strokeWidth": 8.76, "strokeDash": [8.76, 8.76], "strokeDashOffset": 8.76, "xOffset": 21.89}, "encoding": {"x": {"field": "group", "type": "nominal"}, "y": {"field": "mean", "type": "quantitative"}, "y2": {"datum": 0}}},
                {"transform": [{"filter": "datum.group === 'Con'"}], "mark": {"type": "rule", "strokeWidth": 8.76, "strokeDash": [8.76, 8.76], "strokeDashOffset": 0, "xOffset": 30.64}, "encoding": {"x": {"field": "group", "type": "nominal"}, "y": {"field": "mean", "type": "quantitative"}, "y2": {"datum": 0}}},
                {"transform": [{"filter": "datum.group === 'Con'"}], "mark": {"type": "rule", "strokeWidth": 8.76, "strokeDash": [8.76, 8.76], "strokeDashOffset": 8.76, "xOffset": 39.4}, "encoding": {"x": {"field": "group", "type": "nominal"}, "y": {"field": "mean", "type": "quantitative"}, "y2": {"datum": 0}}},
                {"transform": [{"filter": "datum.group === 'Con'"}], "mark": {"type": "rule", "strokeWidth": 8.76, "strokeDash": [8.76, 8.76], "strokeDashOffset": 0, "xOffset": 48.16}, "encoding": {"x": {"field": "group", "type": "nominal"}, "y": {"field": "mean", "type": "quantitative"}, "y2": {"datum": 0}}},
                {"transform": [{"filter": "datum.group === 'Con'"}], "mark": {"type": "rule", "strokeWidth": 8.76, "strokeDash": [8.76, 8.76], "strokeDashOffset": 8.76, "xOffset": 56.91}, "encoding": {"x": {"field": "group", "type": "nominal"}, "y": {"field": "mean", "type": "quantitative"}, "y2": {"datum": 0}}},
                {"transform": [{"filter": "datum.group === 'Con'"}], "mark": {"type": "rule", "strokeWidth": 8.76, "strokeDash": [8.76, 8.76], "strokeDashOffset": 0, "xOffset": 65.67}, "encoding": {"x": {"field": "group", "type": "nominal"}, "y": {"field": "mean", "type": "quantitative"}, "y2": {"datum": 0}}},
                {"transform": [{"filter": "datum.group === 'Con'"}], "mark": {"type": "rule", "strokeWidth": 8.76, "strokeDash": [8.76, 8.76], "strokeDashOffset": 8.76, "xOffset": 74.42}, "encoding": {"x": {"field": "group", "type": "nominal"}, "y": {"field": "mean", "type": "quantitative"}, "y2": {"datum": 0}}},
                {
                  "mark": {"type": "rule", "color": "black", "strokeWidth": 10},
                  "encoding": {
                    "x": {"field": "group", "type": "nominal"},
                    "y": {"field": "mean", "type": "quantitative"},
                    "y2": {"field": "upper"}
                  }
                },
                {
                  "mark": {"type": "tick", "color": "black", "opacity": 1, "thickness": 8, "size": 78},
                  "encoding": {
                    "x": {"field": "group", "type": "nominal"},
                    "y": {"field": "upper", "type": "quantitative"}
                  }
                },
                {
                  "data": {"values": [
                    {"id": "b1", "o": 1, "group": "shCon", "v": 5.62},
                    {"id": "b1", "o": 2, "group": "shCon", "v": 9.0},
                    {"id": "b1", "o": 3, "group": "shSMC1A", "v": 9.0},
                    {"id": "b1", "o": 4, "group": "shSMC1A", "v": 8.59}
                  ]},
                  "mark": {"type": "line", "color": "black", "strokeWidth": 5},
                  "encoding": {
                    "x": {"field": "group", "type": "nominal"},
                    "y": {"field": "v", "type": "quantitative"},
                    "detail": {"field": "id"},
                    "order": {"field": "o"}
                  }
                },
                {
                  "data": {"values": [
                    {"group": "shCon", "v": 9.54, "label": "*"}
                  ]},
                  "mark": {"type": "text", "font": "Liberation Sans", "fontWeight": "bold", "fontSize": 56, "baseline": "middle", "align": "center", "dx": 122, "dy": 14, "color": "black"},
                  "encoding": {
                    "x": {"field": "group", "type": "nominal"},
                    "y": {"field": "v", "type": "quantitative"},
                    "text": {"field": "label"}
                  }
                }
              ]
            }
          ]
        },
        {
          "title": {"text": "D", "anchor": "start", "frame": "bounds", "fontSize": 50, "offset": -44, "dx": -18},
          "resolve": {"scale": {"fill": "independent"}, "legend": {"fill": "independent"}},
          "vconcat": [
            {
              "width": 729,
              "height": 569,
              "title": {"text": "DU145", "anchor": "middle", "frame": "group", "fontSize": 42, "offset": -64, "dx": -130},
              "data": {"values": [
                {"group": "Con", "mean": 1.41, "upper": 1.79},
                {"group": "shCon", "mean": 1.59, "upper": 1.89},
                {"group": "shSMC1A", "mean": 4.41, "upper": 4.91}
              ]},
              "layer": [
                {
                  "mark": {"type": "bar", "stroke": "black", "strokeWidth": 7},
                  "encoding": {
                    "x": {"field": "group", "type": "nominal", "scale": {"domain": ["Con", "shCon", "shSMC1A"], "paddingInner": 0.327, "paddingOuter": 0.16}, "axis": {"title": null, "labelAngle": -45, "tickSize": 17, "labelPadding": 6, "labelFontSize": 42}},
                    "y": {"field": "mean", "type": "quantitative", "scale": {"domain": [0, 6], "nice": false}, "axis": {"title": "Percentage of cells", "values": [0, 2, 4, 6], "format": "d", "tickSize": 15, "labelPadding": 16, "minExtent": 49, "maxExtent": 49, "titlePadding": 43, "titleY": 289}},
                    "fill": {
                      "condition": {"test": "datum.group === 'shSMC1A'", "value": {"gradient": "linear", "x1": 0, "y1": 0, "x2": 0, "y2": 1, "stops": [
                          {"offset": 0, "color": "white"},
                          {"offset": 0.0415, "color": "white"}, {"offset": 0.0415, "color": "black"}, {"offset": 0.0495, "color": "black"}, {"offset": 0.0495, "color": "white"},
                          {"offset": 0.0869, "color": "white"}, {"offset": 0.0869, "color": "black"}, {"offset": 0.0949, "color": "black"}, {"offset": 0.0949, "color": "white"},
                          {"offset": 0.1324, "color": "white"}, {"offset": 0.1324, "color": "black"}, {"offset": 0.1404, "color": "black"}, {"offset": 0.1404, "color": "white"},
                          {"offset": 0.1778, "color": "white"}, {"offset": 0.1778, "color": "black"}, {"offset": 0.1858, "color": "black"}, {"offset": 0.1858, "color": "white"},
                          {"offset": 0.2233, "color": "white"}, {"offset": 0.2233, "color": "black"}, {"offset": 0.2313, "color": "black"}, {"offset": 0.2313, "color": "white"},
                          {"offset": 0.2687, "color": "white"}, {"offset": 0.2687, "color": "black"}, {"offset": 0.2767, "color": "black"}, {"offset": 0.2767, "color": "white"},
                          {"offset": 0.3142, "color": "white"}, {"offset": 0.3142, "color": "black"}, {"offset": 0.3222, "color": "black"}, {"offset": 0.3222, "color": "white"},
                          {"offset": 0.3596, "color": "white"}, {"offset": 0.3596, "color": "black"}, {"offset": 0.3676, "color": "black"}, {"offset": 0.3676, "color": "white"},
                          {"offset": 0.4051, "color": "white"}, {"offset": 0.4051, "color": "black"}, {"offset": 0.4131, "color": "black"}, {"offset": 0.4131, "color": "white"},
                          {"offset": 0.4505, "color": "white"}, {"offset": 0.4505, "color": "black"}, {"offset": 0.4585, "color": "black"}, {"offset": 0.4585, "color": "white"},
                          {"offset": 0.496, "color": "white"}, {"offset": 0.496, "color": "black"}, {"offset": 0.504, "color": "black"}, {"offset": 0.504, "color": "white"},
                          {"offset": 0.5415, "color": "white"}, {"offset": 0.5415, "color": "black"}, {"offset": 0.5495, "color": "black"}, {"offset": 0.5495, "color": "white"},
                          {"offset": 0.5869, "color": "white"}, {"offset": 0.5869, "color": "black"}, {"offset": 0.5949, "color": "black"}, {"offset": 0.5949, "color": "white"},
                          {"offset": 0.6324, "color": "white"}, {"offset": 0.6324, "color": "black"}, {"offset": 0.6404, "color": "black"}, {"offset": 0.6404, "color": "white"},
                          {"offset": 0.6778, "color": "white"}, {"offset": 0.6778, "color": "black"}, {"offset": 0.6858, "color": "black"}, {"offset": 0.6858, "color": "white"},
                          {"offset": 0.7233, "color": "white"}, {"offset": 0.7233, "color": "black"}, {"offset": 0.7313, "color": "black"}, {"offset": 0.7313, "color": "white"},
                          {"offset": 0.7687, "color": "white"}, {"offset": 0.7687, "color": "black"}, {"offset": 0.7767, "color": "black"}, {"offset": 0.7767, "color": "white"},
                          {"offset": 0.8142, "color": "white"}, {"offset": 0.8142, "color": "black"}, {"offset": 0.8222, "color": "black"}, {"offset": 0.8222, "color": "white"},
                          {"offset": 0.8596, "color": "white"}, {"offset": 0.8596, "color": "black"}, {"offset": 0.8676, "color": "black"}, {"offset": 0.8676, "color": "white"},
                          {"offset": 0.9051, "color": "white"}, {"offset": 0.9051, "color": "black"}, {"offset": 0.9131, "color": "black"}, {"offset": 0.9131, "color": "white"},
                          {"offset": 0.9505, "color": "white"}, {"offset": 0.9505, "color": "black"}, {"offset": 0.9585, "color": "black"}, {"offset": 0.9585, "color": "white"},
                          {"offset": 1, "color": "white"}
                        ]}},
                      "value": "white"
                    }
                  }
                },
                {"transform": [{"filter": "datum.group === 'shCon'"}], "mark": {"type": "rule", "strokeWidth": 15.8, "strokeDash": [15.8, 15.8], "strokeDashOffset": 0, "xOffset": -71.1}, "encoding": {"x": {"field": "group", "type": "nominal"}, "y": {"field": "mean", "type": "quantitative"}, "y2": {"datum": 0}}},
                {"transform": [{"filter": "datum.group === 'shCon'"}], "mark": {"type": "rule", "strokeWidth": 15.8, "strokeDash": [15.8, 15.8], "strokeDashOffset": 15.8, "xOffset": -55.3}, "encoding": {"x": {"field": "group", "type": "nominal"}, "y": {"field": "mean", "type": "quantitative"}, "y2": {"datum": 0}}},
                {"transform": [{"filter": "datum.group === 'shCon'"}], "mark": {"type": "rule", "strokeWidth": 15.8, "strokeDash": [15.8, 15.8], "strokeDashOffset": 0, "xOffset": -39.5}, "encoding": {"x": {"field": "group", "type": "nominal"}, "y": {"field": "mean", "type": "quantitative"}, "y2": {"datum": 0}}},
                {"transform": [{"filter": "datum.group === 'shCon'"}], "mark": {"type": "rule", "strokeWidth": 15.8, "strokeDash": [15.8, 15.8], "strokeDashOffset": 15.8, "xOffset": -23.7}, "encoding": {"x": {"field": "group", "type": "nominal"}, "y": {"field": "mean", "type": "quantitative"}, "y2": {"datum": 0}}},
                {"transform": [{"filter": "datum.group === 'shCon'"}], "mark": {"type": "rule", "strokeWidth": 15.8, "strokeDash": [15.8, 15.8], "strokeDashOffset": 0, "xOffset": -7.9}, "encoding": {"x": {"field": "group", "type": "nominal"}, "y": {"field": "mean", "type": "quantitative"}, "y2": {"datum": 0}}},
                {"transform": [{"filter": "datum.group === 'shCon'"}], "mark": {"type": "rule", "strokeWidth": 15.8, "strokeDash": [15.8, 15.8], "strokeDashOffset": 15.8, "xOffset": 7.9}, "encoding": {"x": {"field": "group", "type": "nominal"}, "y": {"field": "mean", "type": "quantitative"}, "y2": {"datum": 0}}},
                {"transform": [{"filter": "datum.group === 'shCon'"}], "mark": {"type": "rule", "strokeWidth": 15.8, "strokeDash": [15.8, 15.8], "strokeDashOffset": 0, "xOffset": 23.7}, "encoding": {"x": {"field": "group", "type": "nominal"}, "y": {"field": "mean", "type": "quantitative"}, "y2": {"datum": 0}}},
                {"transform": [{"filter": "datum.group === 'shCon'"}], "mark": {"type": "rule", "strokeWidth": 15.8, "strokeDash": [15.8, 15.8], "strokeDashOffset": 15.8, "xOffset": 39.5}, "encoding": {"x": {"field": "group", "type": "nominal"}, "y": {"field": "mean", "type": "quantitative"}, "y2": {"datum": 0}}},
                {"transform": [{"filter": "datum.group === 'shCon'"}], "mark": {"type": "rule", "strokeWidth": 15.8, "strokeDash": [15.8, 15.8], "strokeDashOffset": 0, "xOffset": 55.3}, "encoding": {"x": {"field": "group", "type": "nominal"}, "y": {"field": "mean", "type": "quantitative"}, "y2": {"datum": 0}}},
                {"transform": [{"filter": "datum.group === 'shCon'"}], "mark": {"type": "rule", "strokeWidth": 15.8, "strokeDash": [15.8, 15.8], "strokeDashOffset": 15.8, "xOffset": 71.1}, "encoding": {"x": {"field": "group", "type": "nominal"}, "y": {"field": "mean", "type": "quantitative"}, "y2": {"datum": 0}}},
                {"transform": [{"filter": "datum.group === 'Con'"}], "mark": {"type": "rule", "strokeWidth": 8.76, "strokeDash": [8.76, 8.76], "strokeDashOffset": 0, "xOffset": -74.42}, "encoding": {"x": {"field": "group", "type": "nominal"}, "y": {"field": "mean", "type": "quantitative"}, "y2": {"datum": 0}}},
                {"transform": [{"filter": "datum.group === 'Con'"}], "mark": {"type": "rule", "strokeWidth": 8.76, "strokeDash": [8.76, 8.76], "strokeDashOffset": 8.76, "xOffset": -65.67}, "encoding": {"x": {"field": "group", "type": "nominal"}, "y": {"field": "mean", "type": "quantitative"}, "y2": {"datum": 0}}},
                {"transform": [{"filter": "datum.group === 'Con'"}], "mark": {"type": "rule", "strokeWidth": 8.76, "strokeDash": [8.76, 8.76], "strokeDashOffset": 0, "xOffset": -56.91}, "encoding": {"x": {"field": "group", "type": "nominal"}, "y": {"field": "mean", "type": "quantitative"}, "y2": {"datum": 0}}},
                {"transform": [{"filter": "datum.group === 'Con'"}], "mark": {"type": "rule", "strokeWidth": 8.76, "strokeDash": [8.76, 8.76], "strokeDashOffset": 8.76, "xOffset": -48.16}, "encoding": {"x": {"field": "group", "type": "nominal"}, "y": {"field": "mean", "type": "quantitative"}, "y2": {"datum": 0}}},
                {"transform": [{"filter": "datum.group === 'Con'"}], "mark": {"type": "rule", "strokeWidth": 8.76, "strokeDash": [8.76, 8.76], "strokeDashOffset": 0, "xOffset": -39.4}, "encoding": {"x": {"field": "group", "type": "nominal"}, "y": {"field": "mean", "type": "quantitative"}, "y2": {"datum": 0}}},
                {"transform": [{"filter": "datum.group === 'Con'"}], "mark": {"type": "rule", "strokeWidth": 8.76, "strokeDash": [8.76, 8.76], "strokeDashOffset": 8.76, "xOffset": -30.64}, "encoding": {"x": {"field": "group", "type": "nominal"}, "y": {"field": "mean", "type": "quantitative"}, "y2": {"datum": 0}}},
                {"transform": [{"filter": "datum.group === 'Con'"}], "mark": {"type": "rule", "strokeWidth": 8.76, "strokeDash": [8.76, 8.76], "strokeDashOffset": 0, "xOffset": -21.89}, "encoding": {"x": {"field": "group", "type": "nominal"}, "y": {"field": "mean", "type": "quantitative"}, "y2": {"datum": 0}}},
                {"transform": [{"filter": "datum.group === 'Con'"}], "mark": {"type": "rule", "strokeWidth": 8.76, "strokeDash": [8.76, 8.76], "strokeDashOffset": 8.76, "xOffset": -13.13}, "encoding": {"x": {"field": "group", "type": "nominal"}, "y": {"field": "mean", "type": "quantitative"}, "y2": {"datum": 0}}},
                {"transform": [{"filter": "datum.group === 'Con'"}], "mark": {"type": "rule", "strokeWidth": 8.76, "strokeDash": [8.76, 8.76], "strokeDashOffset": 0, "xOffset": -4.38}, "encoding": {"x": {"field": "group", "type": "nominal"}, "y": {"field": "mean", "type": "quantitative"}, "y2": {"datum": 0}}},
                {"transform": [{"filter": "datum.group === 'Con'"}], "mark": {"type": "rule", "strokeWidth": 8.76, "strokeDash": [8.76, 8.76], "strokeDashOffset": 8.76, "xOffset": 4.38}, "encoding": {"x": {"field": "group", "type": "nominal"}, "y": {"field": "mean", "type": "quantitative"}, "y2": {"datum": 0}}},
                {"transform": [{"filter": "datum.group === 'Con'"}], "mark": {"type": "rule", "strokeWidth": 8.76, "strokeDash": [8.76, 8.76], "strokeDashOffset": 0, "xOffset": 13.13}, "encoding": {"x": {"field": "group", "type": "nominal"}, "y": {"field": "mean", "type": "quantitative"}, "y2": {"datum": 0}}},
                {"transform": [{"filter": "datum.group === 'Con'"}], "mark": {"type": "rule", "strokeWidth": 8.76, "strokeDash": [8.76, 8.76], "strokeDashOffset": 8.76, "xOffset": 21.89}, "encoding": {"x": {"field": "group", "type": "nominal"}, "y": {"field": "mean", "type": "quantitative"}, "y2": {"datum": 0}}},
                {"transform": [{"filter": "datum.group === 'Con'"}], "mark": {"type": "rule", "strokeWidth": 8.76, "strokeDash": [8.76, 8.76], "strokeDashOffset": 0, "xOffset": 30.64}, "encoding": {"x": {"field": "group", "type": "nominal"}, "y": {"field": "mean", "type": "quantitative"}, "y2": {"datum": 0}}},
                {"transform": [{"filter": "datum.group === 'Con'"}], "mark": {"type": "rule", "strokeWidth": 8.76, "strokeDash": [8.76, 8.76], "strokeDashOffset": 8.76, "xOffset": 39.4}, "encoding": {"x": {"field": "group", "type": "nominal"}, "y": {"field": "mean", "type": "quantitative"}, "y2": {"datum": 0}}},
                {"transform": [{"filter": "datum.group === 'Con'"}], "mark": {"type": "rule", "strokeWidth": 8.76, "strokeDash": [8.76, 8.76], "strokeDashOffset": 0, "xOffset": 48.16}, "encoding": {"x": {"field": "group", "type": "nominal"}, "y": {"field": "mean", "type": "quantitative"}, "y2": {"datum": 0}}},
                {"transform": [{"filter": "datum.group === 'Con'"}], "mark": {"type": "rule", "strokeWidth": 8.76, "strokeDash": [8.76, 8.76], "strokeDashOffset": 8.76, "xOffset": 56.91}, "encoding": {"x": {"field": "group", "type": "nominal"}, "y": {"field": "mean", "type": "quantitative"}, "y2": {"datum": 0}}},
                {"transform": [{"filter": "datum.group === 'Con'"}], "mark": {"type": "rule", "strokeWidth": 8.76, "strokeDash": [8.76, 8.76], "strokeDashOffset": 0, "xOffset": 65.67}, "encoding": {"x": {"field": "group", "type": "nominal"}, "y": {"field": "mean", "type": "quantitative"}, "y2": {"datum": 0}}},
                {"transform": [{"filter": "datum.group === 'Con'"}], "mark": {"type": "rule", "strokeWidth": 8.76, "strokeDash": [8.76, 8.76], "strokeDashOffset": 8.76, "xOffset": 74.42}, "encoding": {"x": {"field": "group", "type": "nominal"}, "y": {"field": "mean", "type": "quantitative"}, "y2": {"datum": 0}}},
                {
                  "mark": {"type": "rule", "color": "black", "strokeWidth": 10},
                  "encoding": {
                    "x": {"field": "group", "type": "nominal"},
                    "y": {"field": "mean", "type": "quantitative"},
                    "y2": {"field": "upper"}
                  }
                },
                {
                  "mark": {"type": "tick", "color": "black", "opacity": 1, "thickness": 8, "size": 78},
                  "encoding": {
                    "x": {"field": "group", "type": "nominal"},
                    "y": {"field": "upper", "type": "quantitative"}
                  }
                },
                {
                  "data": {"values": [
                    {"id": "b1", "o": 1, "group": "shCon", "v": 2.13},
                    {"id": "b1", "o": 2, "group": "shCon", "v": 5.37},
                    {"id": "b1", "o": 3, "group": "shSMC1A", "v": 5.37},
                    {"id": "b1", "o": 4, "group": "shSMC1A", "v": 5.12}
                  ]},
                  "mark": {"type": "line", "color": "black", "strokeWidth": 5},
                  "encoding": {
                    "x": {"field": "group", "type": "nominal"},
                    "y": {"field": "v", "type": "quantitative"},
                    "detail": {"field": "id"},
                    "order": {"field": "o"}
                  }
                },
                {
                  "data": {"values": [
                    {"group": "shCon", "v": 5.64, "label": "**"}
                  ]},
                  "mark": {"type": "text", "font": "Liberation Sans", "fontWeight": "bold", "fontSize": 56, "baseline": "middle", "align": "center", "dx": 122, "dy": 14, "color": "black"},
                  "encoding": {
                    "x": {"field": "group", "type": "nominal"},
                    "y": {"field": "v", "type": "quantitative"},
                    "text": {"field": "label"}
                  }
                }
              ]
            }
          ]
        }
      ]
    }
  ]
}
